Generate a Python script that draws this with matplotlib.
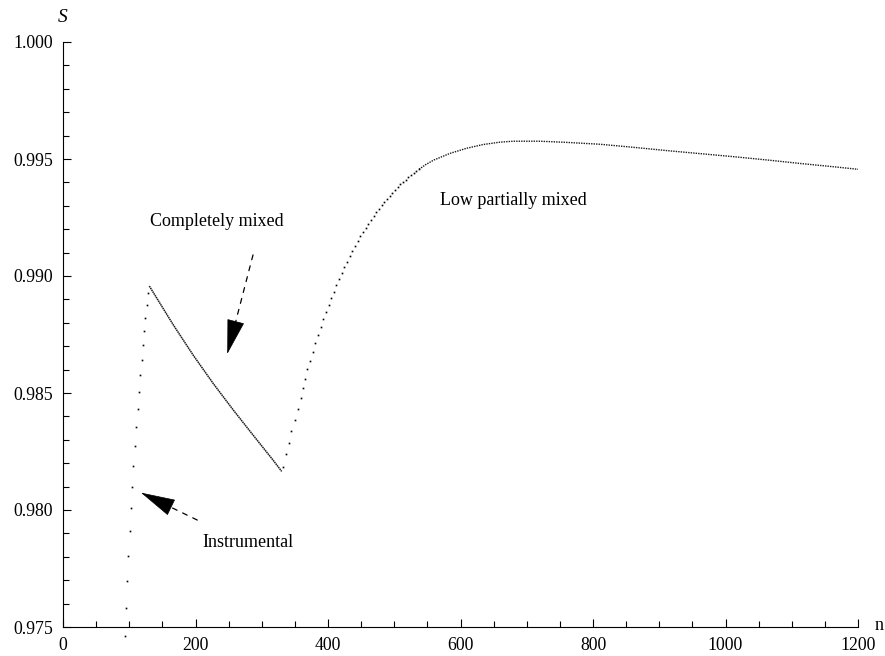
import numpy as np
import matplotlib
matplotlib.use('Agg')
import matplotlib.pyplot as plt
from matplotlib.ticker import MultipleLocator

plt.rcParams['font.family'] = ['Liberation Serif', 'DejaVu Serif']

# instrumental branch (single dots)
n_instr = [93.1, 94.6, 96.6, 98.6, 101.1, 102.2, 104.2, 106.1, 108.2, 110.6,
           112.8, 114.7, 116.7, 118.8, 120.8, 122.7, 124.2, 126.3, 128.3]
s_instr = [0.97462, 0.97582, 0.97698, 0.97805, 0.97910, 0.98009, 0.98100, 0.98189,
           0.98275, 0.98356, 0.98433, 0.98506, 0.98576, 0.98641, 0.98705, 0.98765,
           0.98822, 0.98877, 0.98929]

# completely mixed branch (dense)
n_mixed = [130.3, 166.5, 196.7, 226.9, 257.1, 287.2, 317.4, 330.1]
s_mixed = [0.98957, 0.98791, 0.98661, 0.98540, 0.98427, 0.98319, 0.98212, 0.98165]

# low partially mixed, steep part (single dots)
n_low = [331.6, 336.2, 340.7, 344.2, 350.2, 354.7, 359.2, 362.8, 365.3, 368.8,
         372.3, 376.9, 380.4, 384.4, 388.9, 392.9, 397.0, 401.0, 404.5, 408.6,
         412.6, 416.6, 420.6, 424.6, 428.7, 432.7, 436.7, 440.8, 444.8, 448.8,
         452.8, 456.9, 460.9, 464.9, 468.9, 473.0, 477.0, 481.0, 485.0, 489.1,
         493.1, 497.1, 501.1, 505.2, 509.2, 513.2, 517.2, 521.3, 525.3, 529.3,
         533.3, 537.4]
s_low = [0.98182, 0.98239, 0.98288, 0.98338, 0.98385, 0.98432, 0.98480, 0.98520,
         0.98561, 0.98601, 0.98638, 0.98675, 0.98712, 0.98746, 0.98783, 0.98815,
         0.98846, 0.98878, 0.98907, 0.98933, 0.98962, 0.98987, 0.99013, 0.99037,
         0.99061, 0.99084, 0.99107, 0.99128, 0.99150, 0.99170, 0.99189, 0.99205,
         0.99224, 0.99241, 0.99258, 0.99274, 0.99288, 0.99302, 0.99316, 0.99329,
         0.99343, 0.99356, 0.99369, 0.99380, 0.99392, 0.99402, 0.99412, 0.99422,
         0.99432, 0.99440, 0.99449, 0.99456]

# low partially mixed, flat part (dense)
n_flat = [537.4, 548.0, 560.0, 584.2, 609.4, 634.4, 659.6, 679.7, 720.0, 760.3,
          810.6, 860.8, 911.2, 961.5, 1011.8, 1062.2, 1112.5, 1162.7, 1200.0]
s_flat = [0.99456, 0.99477, 0.99496, 0.99524, 0.99546, 0.99562, 0.99572, 0.99576,
          0.99576, 0.99571, 0.99563, 0.99550, 0.99536, 0.99523, 0.99510, 0.99496,
          0.99481, 0.99467, 0.99456]

x_ticks = [0, 200, 400, 600, 800, 1000, 1200]
y_ticks = [0.975, 0.980, 0.985, 0.990, 0.995, 1.000]

fig = plt.figure(figsize=(8.85, 6.56), dpi=100)
ax = fig.add_axes([63 / 885, 29 / 656, 795 / 885, 585 / 656])

ax.plot(n_instr, s_instr, ls='none', marker='s', ms=1.2, mew=0, color='k', clip_on=False)
ax.plot(n_mixed, s_mixed, color='0.1', lw=1.1, ls=(0, (1, 0.4)))
ax.plot(n_low, s_low, ls='none', marker='s', ms=1.2, mew=0, color='k')
ax.plot(n_flat, s_flat, color='0.1', lw=1.0, ls=(0, (1, 0.8)))

ax.set_xlim(0, 1200)
ax.set_ylim(0.975, 1.000)
ax.spines['top'].set_visible(False)
ax.spines['right'].set_visible(False)
for sp in ['left', 'bottom']:
    ax.spines[sp].set_linewidth(0.8)

ax.set_xticks(x_ticks)
ax.set_xticklabels([str(v) for v in x_ticks])
ax.set_yticks(y_ticks)
ax.set_yticklabels(['%.3f' % v for v in y_ticks])
ax.xaxis.set_minor_locator(MultipleLocator(50))
ax.yaxis.set_minor_locator(MultipleLocator(0.001))
ax.tick_params(which='major', direction='in', length=6, width=0.8, labelsize=12.8, pad=7)
ax.tick_params(which='minor', direction='in', length=4, width=0.8)

# labels
txt_kw = dict(fontsize=13, color='k')
ax.text(232.5, 0.99215, 'Completely mixed', ha='center', va='baseline', **txt_kw)
ax.text(679.8, 0.99303, 'Low partially mixed', ha='center', va='baseline', **txt_kw)
ax.text(279.7, 0.97841, 'Instrumental', ha='center', va='baseline', **txt_kw)


def dashed_arrow(tip, start, frac):
    # dashed shaft, then a solid filled head
    base = (tip[0] + (start[0] - tip[0]) * frac, tip[1] + (start[1] - tip[1]) * frac)
    ax.annotate('', xy=base, xytext=start,
                arrowprops=dict(arrowstyle='-', color='k', lw=0.9,
                                linestyle=(0, (4, 5)), shrinkA=0, shrinkB=0))
    ax.annotate('', xy=tip, xytext=base,
                arrowprops=dict(arrowstyle='-|>,head_length=23,head_width=5.8',
                                color='k', lw=0.5, mutation_scale=1,
                                shrinkA=0, shrinkB=0))


dashed_arrow((248.0, 0.98667), (286.8, 0.99090), 0.33)
dashed_arrow((117.7, 0.98074), (202.7, 0.97957), 0.50)

fig.text(63 / 885, 1 - 18 / 656, 'S', fontsize=14, style='italic', ha='center', va='center')
fig.text(879 / 885, 1 - 626 / 656, 'n', fontsize=13, ha='center', va='center')

fig.savefig('out.png', dpi=100)
